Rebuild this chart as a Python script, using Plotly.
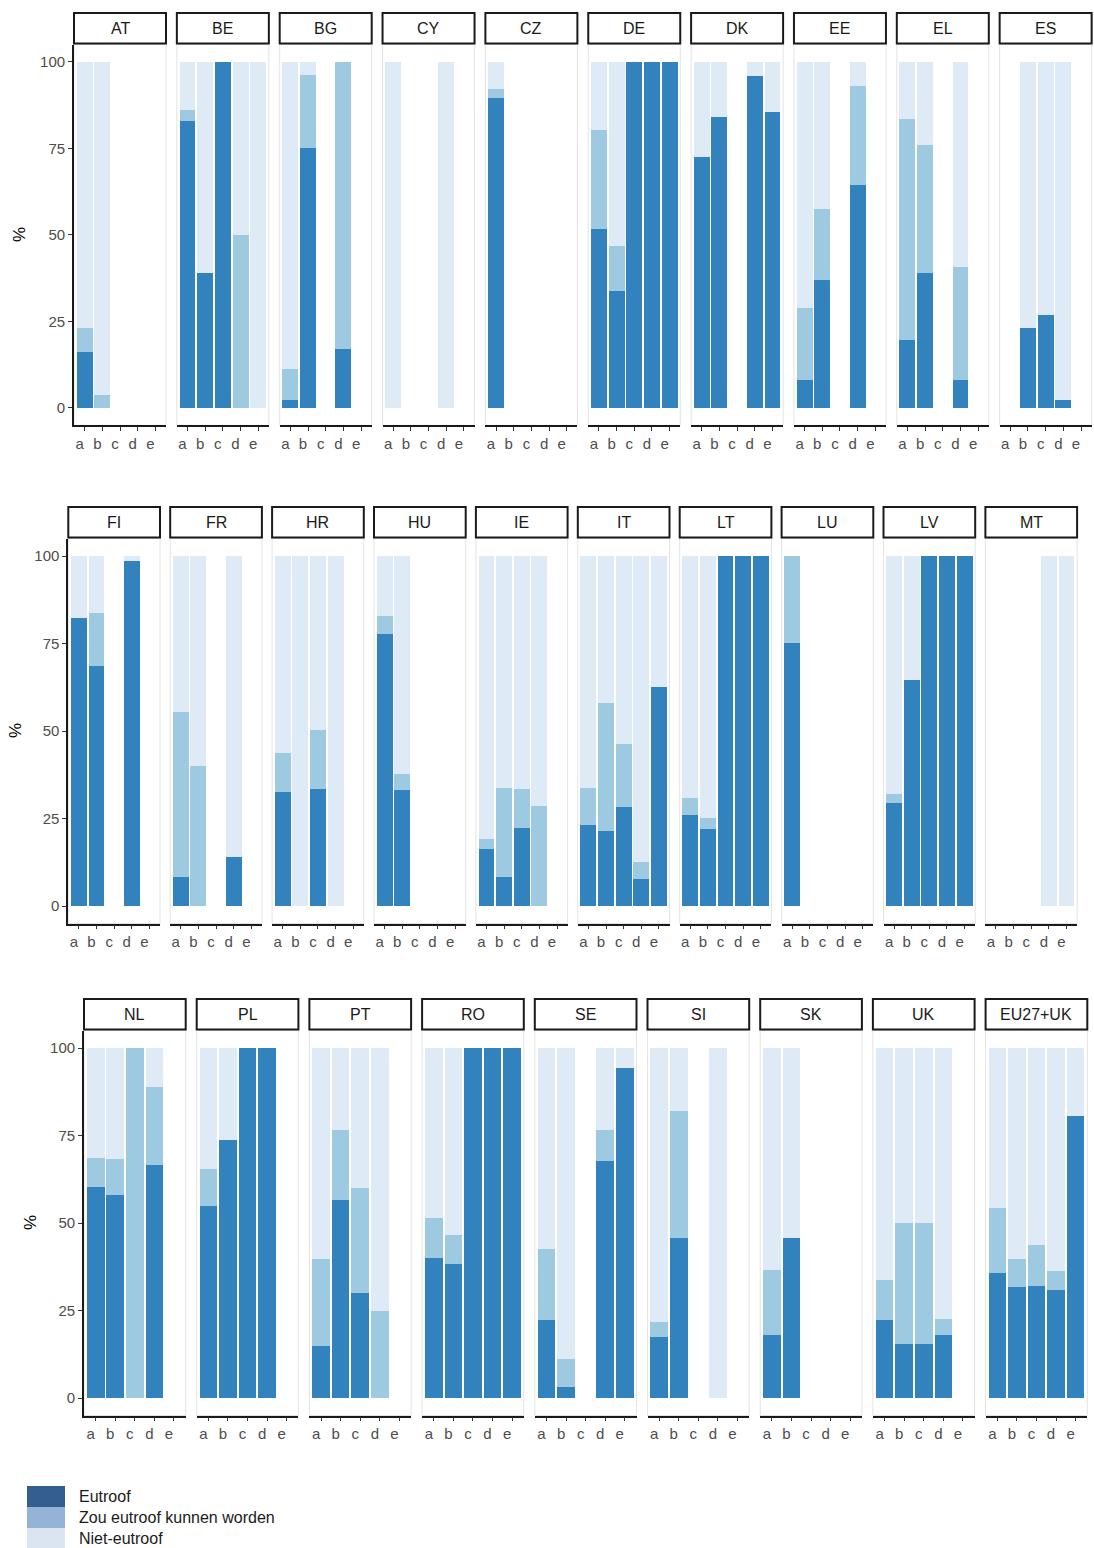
import plotly.graph_objects as go

# ---------------- data ----------------
CATS = ["a", "b", "c", "d", "e"]

ROW1 = ["AT", "BE", "BG", "CY", "CZ", "DE", "DK", "EE", "EL", "ES"]
ROW2 = ["FI", "FR", "HR", "HU", "IE", "IT", "LT", "LU", "LV", "MT"]
ROW3 = ["NL", "PL", "PT", "RO", "SE", "SI", "SK", "UK", "EU27+UK"]

N = None
# Eutroof (%)
eutroof = {
    "AT": [16.2, 0, N, N, N],
    "BE": [82.9, 39.1, 100, 0, 0],
    "BG": [2.2, 75.1, N, 16.9, N],
    "CY": [0, N, N, 0, N],
    "CZ": [89.6, N, N, N, N],
    "DE": [51.8, 33.9, 100, 100, 100],
    "DK": [72.4, 84.0, N, 95.9, 85.6],
    "EE": [8.2, 37.1, N, 64.3, N],
    "EL": [19.6, 39.1, N, 8.2, N],
    "ES": [N, 23.1, 27.0, 2.4, N],
    "FI": [82.4, 68.6, N, 98.7, N],
    "FR": [8.3, 0, N, 14.1, N],
    "HR": [32.5, 0, 33.3, 0, N],
    "HU": [77.6, 33.2, N, N, N],
    "IE": [16.3, 8.2, 22.3, 0, N],
    "IT": [23.1, 21.3, 28.2, 7.6, 62.7],
    "LT": [25.9, 22.1, 100, 100, 100],
    "LU": [75.1, N, N, N, N],
    "LV": [29.5, 64.6, 100, 100, 100],
    "MT": [N, N, N, 0, 0],
    "NL": [60.2, 58.1, 0, 66.7, N],
    "PL": [54.9, 73.8, 100, 100, N],
    "PT": [15.0, 56.7, 29.9, 0, N],
    "RO": [40.0, 38.4, 100, 100, 100],
    "SE": [22.3, 3.1, N, 67.6, 94.3],
    "SI": [17.3, 45.6, N, 0, N],
    "SK": [17.9, 45.6, N, N, N],
    "UK": [22.3, 15.5, 15.5, 18.1, N],
    "EU27+UK": [35.7, 31.8, 31.9, 30.8, 80.7],
}
# Zou eutroof kunnen worden (%)
zou = {
    "AT": [7.0, 3.7, N, N, N],
    "BE": [3.2, 0, 0, 50.1, 0],
    "BG": [9.0, 21.1, N, 83.1, N],
    "CY": [0, N, N, 0, N],
    "CZ": [2.6, N, N, N, N],
    "DE": [28.4, 12.8, 0, 0, 0],
    "DK": [0, 0, N, 0, 0],
    "EE": [20.8, 20.4, N, 28.6, N],
    "EL": [64.0, 37.0, N, 32.6, N],
    "ES": [N, 0, 0, 0, N],
    "FI": [0, 15.1, N, 0, N],
    "FR": [47.0, 40.1, N, 0, N],
    "HR": [11.3, 0, 16.9, 0, N],
    "HU": [5.2, 4.5, N, N, N],
    "IE": [2.8, 25.6, 11.0, 28.6, N],
    "IT": [10.7, 36.8, 18.2, 5.1, 0],
    "LT": [4.9, 3.1, 0, 0, 0],
    "LU": [24.9, N, N, N, N],
    "LV": [2.4, 0, 0, 0, 0],
    "MT": [N, N, N, 0, 0],
    "NL": [8.5, 10.2, 100, 22.2, N],
    "PL": [10.5, 0, 0, 0, N],
    "PT": [24.7, 20.0, 30.1, 24.9, N],
    "RO": [11.4, 8.1, 0, 0, 0],
    "SE": [20.3, 8.1, N, 9.1, 0],
    "SI": [4.4, 36.4, N, 0, N],
    "SK": [18.6, 0, N, N, N],
    "UK": [11.3, 34.5, 34.5, 4.4, N],
    "EU27+UK": [18.7, 8.0, 11.8, 5.4, 0],
}
# Niet-eutroof (%)
niet = {
    "AT": [76.8, 96.3, N, N, N],
    "BE": [13.9, 60.9, 0, 49.9, 100],
    "BG": [88.8, 3.8, N, 0, N],
    "CY": [100, N, N, 100, N],
    "CZ": [7.8, N, N, N, N],
    "DE": [19.8, 53.3, 0, 0, 0],
    "DK": [27.6, 16.0, N, 4.1, 14.4],
    "EE": [71.0, 42.5, N, 7.1, N],
    "EL": [16.4, 23.9, N, 59.2, N],
    "ES": [N, 76.9, 73.0, 97.6, N],
    "FI": [17.6, 16.3, N, 1.3, N],
    "FR": [44.7, 59.9, N, 85.9, N],
    "HR": [56.2, 100, 49.8, 100, N],
    "HU": [17.2, 62.3, N, N, N],
    "IE": [80.9, 66.2, 66.7, 71.4, N],
    "IT": [66.2, 41.9, 53.6, 87.3, 37.3],
    "LT": [69.2, 74.8, 0, 0, 0],
    "LU": [0, N, N, N, N],
    "LV": [68.1, 35.4, 0, 0, 0],
    "MT": [N, N, N, 100, 100],
    "NL": [31.3, 31.7, 0, 11.1, N],
    "PL": [34.6, 26.2, 0, 0, N],
    "PT": [60.3, 23.3, 40.0, 75.1, N],
    "RO": [48.6, 53.5, 0, 0, 0],
    "SE": [57.4, 88.8, N, 23.3, 5.7],
    "SI": [78.3, 18.0, N, 100, N],
    "SK": [63.5, 54.4, N, N, N],
    "UK": [66.4, 50.0, 50.0, 77.5, N],
    "EU27+UK": [45.6, 60.2, 56.3, 63.8, 19.3],
}

SERIES_NAMES = ["Eutroof", "Zou eutroof kunnen worden", "Niet-eutroof"]
Y_TICKS = [0, 25, 50, 75, 100]

# ---------------- styling / layout ----------------
W, H = 1094, 1548
BAR_COLORS = ["#3182bd", "#9ecae1", "#deebf7"]
LEGEND_COLORS = ["#345e90", "#95b3d7", "#dbe5f1"]
FONT = "Liberation Sans, Arial, sans-serif"

ROW_GEOM = [
    dict(names=ROW1, left=74.0, pitch=102.85, width=92.0, top=44.5, bottom=425.3, strip_top=13.0, ytitle_x=20),
    dict(names=ROW2, left=68.3, pitch=101.9, width=91.7, top=538.5, bottom=923.5, strip_top=507.0, ytitle_x=15),
    dict(names=ROW3, left=84.0, pitch=112.7, width=101.7, top=1030.5, bottom=1415.5, strip_top=999.0, ytitle_x=30),
]

def px(x):
    return x / W

def py(y):
    return 1 - y / H

fig = go.Figure()
layout = {}
shapes = []
annotations = []

idx = 0
for g in ROW_GEOM:
    for j, name in enumerate(g["names"]):
        idx += 1
        xa = "x" if idx == 1 else f"x{idx}"
        ya = "y" if idx == 1 else f"y{idx}"
        xk = "xaxis" if idx == 1 else f"xaxis{idx}"
        yk = "yaxis" if idx == 1 else f"yaxis{idx}"
        l = g["left"] + j * g["pitch"]
        r = l + g["width"]
        first = j == 0

        for vals, col, nm in zip([eutroof[name], zou[name], niet[name]], BAR_COLORS, SERIES_NAMES):
            fig.add_trace(go.Bar(
                x=CATS, y=vals, name=nm, xaxis=xa, yaxis=ya,
                marker=dict(color=col, line=dict(width=0)),
                width=0.9, showlegend=False,
            ))

        layout[xk] = dict(
            domain=[px(l), px(r)], anchor=ya, type="category",
            categoryorder="array", categoryarray=CATS, range=[-0.6, 4.6],
            tickmode="array", tickvals=CATS, ticktext=CATS, tickangle=0,
            ticklabelshift=-5,
            showline=True, linecolor="#1a1a1a", linewidth=1.8,
            ticks="outside", ticklen=4, tickwidth=1, tickcolor="#333333",
            tickfont=dict(size=15, color="#4d4d4d", family=FONT),
            showgrid=False, zeroline=False, fixedrange=True,
        )
        layout[yk] = dict(
            domain=[py(g["bottom"]), py(g["top"])], anchor=xa,
            range=[-5, 105], tickmode="array", tickvals=Y_TICKS,
            showticklabels=first, showline=first, linecolor="#1a1a1a", linewidth=1.8,
            ticks="outside" if first else "", ticklen=4, tickwidth=1, tickcolor="#333333",
            tickfont=dict(size=15, color="#4d4d4d", family=FONT),
            showgrid=False, zeroline=False, fixedrange=True,
        )
        # panel border (light grey)
        shapes.append(dict(type="rect", xref="paper", yref="paper",
                           x0=px(l), x1=px(r), y0=py(g["bottom"]), y1=py(g["top"]),
                           line=dict(color="#e3e3e3", width=1), fillcolor="rgba(0,0,0,0)",
                           layer="below"))
        # strip
        shapes.append(dict(type="rect", xref="paper", yref="paper",
                           x0=px(l), x1=px(r), y0=py(g["top"] - 1), y1=py(g["strip_top"]),
                           line=dict(color="#1a1a1a", width=2), fillcolor="white"))
        annotations.append(dict(xref="paper", yref="paper",
                                x=px((l + r) / 2), y=py((g["strip_top"] + g["top"] - 1) / 2),
                                text=name, showarrow=False, xanchor="center", yanchor="middle",
                                font=dict(size=16, color="#1a1a1a", family=FONT)))
    # y-axis title
    annotations.append(dict(xref="paper", yref="paper",
                            x=px(g["ytitle_x"]), y=py((g["top"] + g["bottom"]) / 2),
                            text="%", showarrow=False, textangle=-90,
                            xanchor="center", yanchor="middle",
                            font=dict(size=17, color="black", family=FONT)))

# legend (drawn manually)
LEG_Y = [1486, 1507, 1528]
for yy, col, nm in zip(LEG_Y, LEGEND_COLORS, SERIES_NAMES):
    shapes.append(dict(type="rect", xref="paper", yref="paper",
                       x0=px(27), x1=px(65), y0=py(yy + 21), y1=py(yy),
                       line=dict(width=0), fillcolor=col))
    annotations.append(dict(xref="paper", yref="paper", x=px(77), y=py(yy + 10.5),
                            text=nm, showarrow=False, xanchor="left", yanchor="middle",
                            font=dict(size=16, color="#1a1a1a", family=FONT)))

fig.update_layout(
    width=W, height=H, autosize=False,
    margin=dict(l=0, r=0, t=0, b=0),
    paper_bgcolor="white", plot_bgcolor="white",
    barmode="stack", showlegend=False,
    shapes=shapes, annotations=annotations,
    font=dict(family=FONT),
    **layout,
)

fig.write_html(
    "out.html",
    config={"displayModeBar": False},
    post_script="document.body.style.margin='0';document.body.style.padding='0';"
                "document.body.style.overflow='hidden';",
)
